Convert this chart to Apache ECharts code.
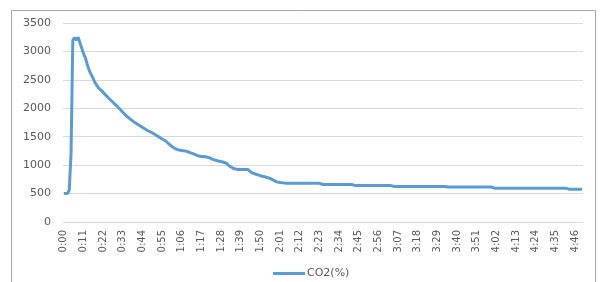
<!DOCTYPE html>
<html>
<head>
<meta charset="utf-8">
<script src="https://cdn.jsdelivr.net/npm/echarts@6/dist/echarts.min.js"></script>
<style>
  html, body { margin: 0; padding: 0; background: #fff; }
  #main { width: 602px; height: 282px; }
</style>
</head>
<body>
<div id="main"></div>
<script>
  // time axis 0:00 .. 4:50, one point per step
  const times = []
  for (let i = 0; i <= 290; i++) {
    times.push(Math.floor(i / 60) + ':' + String(i % 60).padStart(2, '0'))
  }

  const seriesName = 'CO2(%)'
  const co2 = [
    500, 500, 500, 560, 1200, 3200, 3240, 3200, 3250, 3150,
    3060, 2960, 2890, 2780, 2680, 2610, 2550, 2480, 2420, 2375,
    2345, 2310, 2280, 2245, 2210, 2180, 2150, 2120, 2090, 2060,
    2025, 1995, 1960, 1930, 1895, 1865, 1840, 1815, 1790, 1765,
    1745, 1725, 1705, 1685, 1665, 1645, 1625, 1605, 1590, 1575,
    1560, 1540, 1520, 1500, 1480, 1460, 1440, 1425, 1395, 1365,
    1335, 1315, 1295, 1280, 1265, 1260, 1258, 1255, 1250, 1240,
    1230, 1215, 1205, 1195, 1180, 1165, 1155, 1150, 1150, 1147,
    1142, 1135, 1120, 1105, 1092, 1085, 1075, 1067, 1060, 1055,
    1045, 1030, 1000, 975, 955, 940, 930, 925, 923, 923,
    923, 923, 923, 923, 900, 870, 860, 845, 835, 825,
    815, 805, 798, 790, 780, 770, 758, 740, 720, 706,
    700, 695, 690, 688, 685, 682, 680, 680, 680, 680,
    680, 680, 680, 680, 680, 680, 680, 680, 680, 680,
    680, 680, 680, 680, 680, 660, 660, 660, 660, 660,
    660, 660, 660, 660, 660, 660, 660, 660, 660, 660,
    660, 660, 660, 640, 640, 640, 640, 640, 640, 640,
    640, 640, 640, 640, 640, 640, 640, 640, 640, 640,
    640, 640, 640, 640, 625, 625, 625, 625, 625, 625,
    625, 625, 625, 625, 625, 625, 625, 625, 625, 625,
    625, 625, 625, 625, 625, 625, 625, 625, 625, 625,
    625, 625, 625, 625, 625, 615, 615, 615, 615, 615,
    615, 615, 615, 615, 615, 615, 615, 615, 615, 615,
    615, 615, 615, 615, 615, 615, 615, 615, 615, 615,
    595, 595, 595, 595, 595, 595, 595, 595, 595, 595,
    595, 595, 595, 595, 595, 595, 595, 595, 595, 595,
    595, 595, 595, 595, 595, 595, 595, 595, 595, 595,
    595, 595, 595, 595, 595, 595, 595, 595, 595, 595,
    595, 595, 595, 575, 575, 575, 575, 575, 575, 575,
    575
  ]

  const yMin = 0
  const yMax = 3500
  const yStep = 500

  const chart = echarts.init(document.getElementById('main'))
  chart.setOption({
    animation: false,
    graphic: [{
      type: 'rect',
      shape: { x: 11.5, y: 10.5, width: 584, height: 290 },
      style: { fill: 'none', stroke: '#a6a6a6', lineWidth: 1 },
      silent: true
    }],
    grid: { left: 63, right: 19, top: 23, bottom: 60 },
    legend: {
      left: 268,
      top: 263,
      icon: 'rect',
      itemWidth: 32,
      itemHeight: 3,
      textStyle: { color: '#595959', fontSize: 11, fontFamily: 'DejaVu Sans', padding: [0, 0, 0, -3] },
      data: [seriesName]
    },
    xAxis: {
      type: 'category',
      data: times,
      boundaryGap: true,
      axisLine: { lineStyle: { color: '#d9d9d9' } },
      axisTick: { show: false },
      axisLabel: {
        interval: 10,
        rotate: 90,
        margin: 8,
        color: '#595959',
        fontSize: 10,
        fontFamily: 'DejaVu Sans'
      }
    },
    yAxis: {
      type: 'value',
      min: yMin,
      max: yMax,
      interval: yStep,
      axisLine: { show: false },
      axisTick: { show: false },
      splitLine: { lineStyle: { color: '#d9d9d9' } },
      axisLabel: {
        color: '#595959',
        fontSize: 11,
        fontFamily: 'DejaVu Sans',
        margin: 12,
        formatter: (v) => String(v)
      }
    },
    series: [{
      name: seriesName,
      type: 'line',
      symbol: 'none',
      data: co2,
      lineStyle: { color: '#5b9bd5', width: 3 },
      itemStyle: { color: '#5b9bd5' }
    }]
  })
</script>
</body>
</html>
